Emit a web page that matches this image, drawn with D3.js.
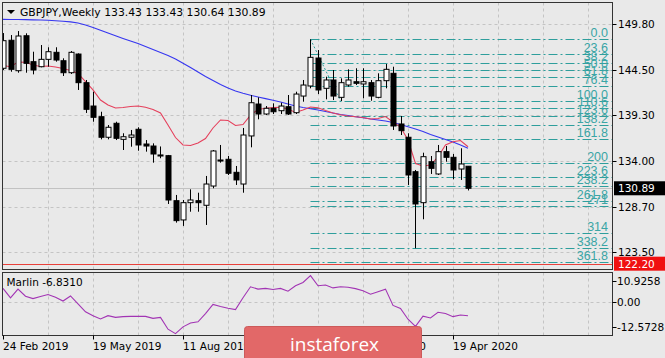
<!DOCTYPE html>
<html><head><meta charset="utf-8">
<script src="https://cdn.jsdelivr.net/npm/d3@7"></script>
<style>body{margin:0;background:#e9e9e9;}svg{display:block;}</style>
</head><body>
<svg id="c" width="665" height="358"></svg>
<script>
// ---- data ----
const opens = [144.72,147.95,144.44,148.47,145.48,144.90,145.75,146.56,145.59,144.21,146.36,143.06,140.37,139.14,136.77,138.38,136.53,136.77,137.69,135.99,135.76,134.73,134.65,129.46,127.24,129.23,129.46,128.93,131.15,134.15,134.23,132.73,131.38,136.92,140.60,139.45,140.11,139.83,140.29,139.60,141.52,142.68,145.90,142.41,143.37,141.37,142.79,143.17,142.91,143.06,141.37,143.29,144.14,138.30,136.77,132.80,129.23,133.95,132.54,135.11,134.46,133.11,133.43];
const highs = [148.78,148.55,149.01,148.75,146.63,147.40,147.14,147.14,145.87,146.71,146.44,143.37,142.02,139.71,138.18,138.56,137.23,137.61,137.92,136.45,136.07,135.71,134.73,130.12,129.54,130.77,130.38,132.31,135.30,135.88,134.61,133.46,137.84,141.64,141.37,140.37,140.68,140.75,141.64,142.02,143.37,148.06,146.82,143.75,144.52,143.56,144.60,144.72,144.72,143.37,144.14,145.21,144.90,139.22,137.23,133.00,134.99,134.61,135.88,135.76,134.84,135.50,133.43];
const lows = [144.52,144.32,144.21,144.21,144.02,144.83,144.90,145.48,143.83,144.06,142.22,139.57,138.56,136.53,136.53,136.45,135.30,135.68,135.22,135.11,133.84,134.35,129.08,126.93,126.55,128.19,128.19,126.66,130.89,133.84,132.42,131.27,130.38,135.61,138.84,139.33,139.45,139.45,139.33,139.45,140.87,142.41,141.75,141.14,141.06,140.95,142.60,142.79,141.26,140.98,141.26,142.41,137.61,137.03,131.27,123.98,127.32,132.54,132.42,133.95,131.93,131.85,130.64];
const closes = [147.90,144.60,148.44,145.29,144.52,145.75,146.63,145.67,144.21,146.56,143.06,139.99,139.07,136.77,137.92,136.65,136.83,137.03,135.88,135.76,134.84,134.61,129.54,127.16,129.23,129.54,129.23,131.38,135.19,134.03,132.62,131.85,137.03,140.75,139.45,140.11,139.71,140.37,139.45,141.75,142.79,145.98,142.22,143.37,141.52,143.06,143.37,142.99,143.17,141.52,143.29,144.60,138.07,137.53,132.42,129.08,134.53,133.19,135.11,134.46,133.00,133.69,130.89];
const maFast = [145.04,144.90,145.44,145.41,145.10,144.92,144.98,144.87,144.69,144.46,144.12,143.19,142.22,141.06,140.49,140.14,140.20,140.31,140.37,140.22,139.97,139.57,138.18,136.74,135.88,135.82,136.11,136.63,137.84,138.76,138.70,138.12,138.24,139.33,139.97,140.11,140.20,140.22,140.03,139.62,139.91,140.26,140.16,139.85,139.57,139.37,139.22,139.13,139.05,138.87,138.93,139.16,138.53,137.95,136.45,133.75,133.46,133.57,134.50,135.88,136.26,136.40,135.68];
const maSlow = [150.36,150.35,150.34,150.33,150.30,150.28,150.25,150.20,150.14,150.07,149.94,149.70,149.42,149.09,148.78,148.46,148.15,147.86,147.57,147.23,146.88,146.54,146.19,145.79,145.29,144.81,144.29,143.77,143.31,142.85,142.45,142.10,141.84,141.62,141.41,141.22,141.04,140.83,140.60,140.37,140.19,140.05,139.91,139.74,139.57,139.39,139.27,139.13,139.01,138.87,138.76,138.64,138.47,138.24,137.99,137.72,137.43,137.09,136.80,136.51,136.22,135.87,135.50];
const marlin = [7.14,2.34,6.77,3.13,1.93,2.97,4.01,2.60,0.68,3.28,-0.78,-4.84,-6.77,-8.49,-6.77,-7.66,-7.29,-7.14,-7.14,-7.14,-8.18,-7.66,-13.70,-15.99,-12.50,-10.57,-9.90,-5.73,-1.04,-2.08,-2.97,-3.65,2.34,7.97,6.77,7.14,6.61,7.14,5.73,8.49,10.16,13.70,8.49,8.85,7.40,7.97,7.71,7.03,5.99,4.17,5.47,6.77,-1.56,-3.13,-8.59,-12.24,-7.03,-7.97,-5.05,-5.63,-7.29,-6.41,-6.83];
const xTickIdx = [0,12,24,36,48,60];
const xTickLabels = ["24 Feb 2019","19 May 2019","11 Aug 2019","3 Nov 2019","26 Jan 2020","19 Apr 2020"];
const priceTicks = [149.80,144.50,139.30,134.00,128.70,123.50];
const marlinTicks = [10.9258,0,-12.5728];
const marlinTickLabels = ["10.9258","0.00","-12.5728"];
const fibHigh = 148.06, fibLow = 140.95, fibStartIdx = 41, fibEndIdx = 45;
const fibLevels = [0,23.6,38.2,50,61.8,76.4,100,110.6,123.6,138.2,161.8,200,223.6,238.2,261.8,271,314,338.2,361.8];
const fibLabels = ["0.0","23.6","38.2","50.0","61.8","76.4","100.0","110.6","123.6","138.2","161.8","200","223.6","238.2","261.8","271","314","338.2","361.8"];
const lastPrice = 130.89, stopPrice = 122.20;
const titleText = "GBPJPY,Weekly  133.43 133.43 130.64 130.89";
const marlinTitle = "Marlin -6.8310";

// ---- layout ----
const svg = d3.select("#c");
const L = 2.5, R = 612.5, mainTop = 2.5, mainBot = 269.5, indTop = 272.5, indBot = 335.5;
const x = d3.scaleLinear().domain([0, 62]).range([3, 468]);
const y = d3.scaleLinear().domain([123.5, 149.8]).range([252.4, 24.2]);
const yi = d3.scaleLinear().domain([-12.5728, 10.9258]).range([327, 281]);
const font = "DejaVu Sans, Verdana, sans-serif";

svg.append("rect").attr("width",665).attr("height",358).attr("fill","#e9e9e9");

const defs = svg.append("defs");
defs.append("clipPath").attr("id","mclip").append("rect").attr("x",L).attr("y",mainTop).attr("width",R-L).attr("height",mainBot-mainTop);
defs.append("clipPath").attr("id","iclip").append("rect").attr("x",L).attr("y",indTop).attr("width",R-L).attr("height",indBot-indTop);

const gridColor = "#c4c4c4";
// vertical grid
const vIdx = d3.range(6, 100, 6).filter(i => x(i) < R);
[[mainTop,mainBot],[indTop,indBot]].forEach(([t,b]) => {
  svg.append("g").selectAll("line").data(vIdx).join("line")
    .attr("x1", d => Math.round(x(d))+0.5).attr("x2", d => Math.round(x(d))+0.5)
    .attr("y1", t).attr("y2", b)
    .attr("stroke", gridColor).attr("stroke-dasharray","3,3");
});
// horizontal grid main
svg.append("g").selectAll("line").data(priceTicks).join("line")
  .attr("x1", L).attr("x2", R)
  .attr("y1", d => Math.round(y(d))+0.5).attr("y2", d => Math.round(y(d))+0.5)
  .attr("stroke", gridColor).attr("stroke-dasharray","3,3");
// indicator zero grid
svg.append("line").attr("x1",L).attr("x2",R).attr("y1",Math.round(yi(0))+0.5).attr("y2",Math.round(yi(0))+0.5)
  .attr("stroke",gridColor).attr("stroke-dasharray","3,3");

const main = svg.append("g").attr("clip-path","url(#mclip)");
// last price line
main.append("line").attr("x1",L).attr("x2",R).attr("y1",Math.round(y(lastPrice))+0.5).attr("y2",Math.round(y(lastPrice))+0.5)
  .attr("stroke","#c2c2c2");

// fib
const fibColor = "#2e9e9c";
const fibRange = fibHigh - fibLow;
const fibPrice = l => fibHigh - l/100*fibRange;
const fibG = main.append("g");
fibG.selectAll("line").data(fibLevels).join("line")
  .attr("x1", x(fibStartIdx)).attr("x2", R)
  .attr("y1", d => Math.round(y(fibPrice(d)))+0.5).attr("y2", d => Math.round(y(fibPrice(d)))+0.5)
  .attr("stroke", fibColor).attr("stroke-width",1.2).attr("stroke-dasharray","9,3,2,3");
fibG.append("line").attr("x1", x(fibStartIdx)).attr("y1", y(fibHigh)).attr("x2", x(fibEndIdx)).attr("y2", y(fibLow))
  .attr("stroke", fibColor).attr("stroke-dasharray","2,2");
fibG.selectAll("text").data(fibLevels).join("text")
  .attr("x", 608).attr("y", d => y(fibPrice(d)) - 2)
  .attr("text-anchor","end").attr("font-family","Liberation Sans, Arial, sans-serif").attr("font-size",12.5)
  .attr("fill","#3aa5a5").text((d,i) => fibLabels[i]);

// stop line
svg.append("line").attr("x1",L).attr("x2",R).attr("y1",Math.round(y(stopPrice))+0.5).attr("y2",Math.round(y(stopPrice))+0.5)
  .attr("stroke","#e8403a").attr("stroke-width",1.2);

// MAs
const line = d3.line().x((d,i) => x(i)).y(d => y(d));
main.append("path").attr("d", line(maSlow)).attr("fill","none").attr("stroke","#3636f0").attr("stroke-width",1.1);
main.append("path").attr("d", line(maFast)).attr("fill","none").attr("stroke","#e5405c").attr("stroke-width",1.1);

// candles
const cg = main.append("g");
const idx = d3.range(opens.length);
cg.selectAll("line").data(idx).join("line")
  .attr("x1", i => Math.round(x(i))+0.5).attr("x2", i => Math.round(x(i))+0.5)
  .attr("y1", i => y(highs[i])).attr("y2", i => y(lows[i]))
  .attr("stroke","#000").attr("stroke-width",1);
cg.selectAll("rect").data(idx).join("rect")
  .attr("x", i => Math.round(x(i)) - 2)
  .attr("y", i => Math.min(y(opens[i]), y(closes[i])))
  .attr("width", 5)
  .attr("height", i => Math.max(1, Math.abs(y(opens[i]) - y(closes[i]))))
  .attr("fill", i => closes[i] >= opens[i] ? "#ffffff" : "#000000")
  .attr("stroke","#000").attr("stroke-width",1);

// indicator
svg.append("g").attr("clip-path","url(#iclip)").append("path")
  .attr("d", d3.line().x((d,i) => x(i)).y(d => yi(d))(marlin))
  .attr("fill","none").attr("stroke","#a234b4").attr("stroke-width",1.1);

// frames
svg.append("rect").attr("x",L).attr("y",mainTop).attr("width",R-L).attr("height",mainBot-mainTop)
  .attr("fill","none").attr("stroke","#333");
svg.append("rect").attr("x",L).attr("y",indTop).attr("width",R-L).attr("height",indBot-indTop)
  .attr("fill","none").attr("stroke","#333");

// right axis main
const ra = svg.append("g");
ra.selectAll("line").data(priceTicks).join("line")
  .attr("x1",R).attr("x2",R+4).attr("y1",d => Math.round(y(d))+0.5).attr("y2",d => Math.round(y(d))+0.5).attr("stroke","#000");
ra.selectAll("text").data(priceTicks).join("text")
  .attr("x",618).attr("y",d => y(d)+4).attr("font-family",font).attr("font-size",10.5).attr("fill","#000")
  .text(d => d.toFixed(2));
// price labels
function priceBox(p, bg) {
  const yy = y(p);
  svg.append("rect").attr("x",614).attr("y",yy-7).attr("width",51).attr("height",14).attr("fill",bg);
  svg.append("text").attr("x",618).attr("y",yy+4).attr("font-family",font).attr("font-size",10.5).attr("fill","#fff").text(p.toFixed(2));
}
priceBox(lastPrice, "#000");
priceBox(stopPrice, "#f01010");

// indicator axis
const ia = svg.append("g");
ia.selectAll("line").data(marlinTicks).join("line")
  .attr("x1",R).attr("x2",R+4).attr("y1",d => Math.round(yi(d))+0.5).attr("y2",d => Math.round(yi(d))+0.5).attr("stroke","#000");
ia.selectAll("text").data(marlinTicks).join("text")
  .attr("x",617).attr("y",d => yi(d)+4).attr("font-family",font).attr("font-size",10.5).attr("fill","#000")
  .text((d,i) => marlinTickLabels[i]);

// x axis
const xa = svg.append("g");
xa.selectAll("line").data(xTickIdx).join("line")
  .attr("x1", d => Math.round(x(d))+0.5).attr("x2", d => Math.round(x(d))+0.5)
  .attr("y1", indBot).attr("y2", indBot+4).attr("stroke","#000");
xa.selectAll("text").data(xTickIdx).join("text")
  .attr("x", d => Math.round(x(d))).attr("y", 350).attr("font-family",font).attr("font-size",10.5).attr("fill","#000")
  .text((d,i) => xTickLabels[i]);

// titles
svg.append("path").attr("d","M7,10 L15,10 L11,14 Z").attr("fill","#000");
svg.append("text").attr("x",20).attr("y",16).attr("font-family",font).attr("font-size",10.8).attr("fill","#000").text(titleText);
svg.append("text").attr("x",6.5).attr("y",286).attr("font-family",font).attr("font-size",10.5).attr("fill","#000").text(marlinTitle);

// watermark
svg.append("rect").attr("x",244.5).attr("y",326.5).attr("width",177).attr("height",40).attr("rx",3)
  .attr("fill","#e26868").attr("stroke","#cc5a5a");
svg.append("text").attr("x",290).attr("y",351).attr("font-family","Open Sans, DejaVu Sans, sans-serif").attr("font-size",19)
  .attr("fill","#fff").text("instaforex");
</script>
</body></html>
